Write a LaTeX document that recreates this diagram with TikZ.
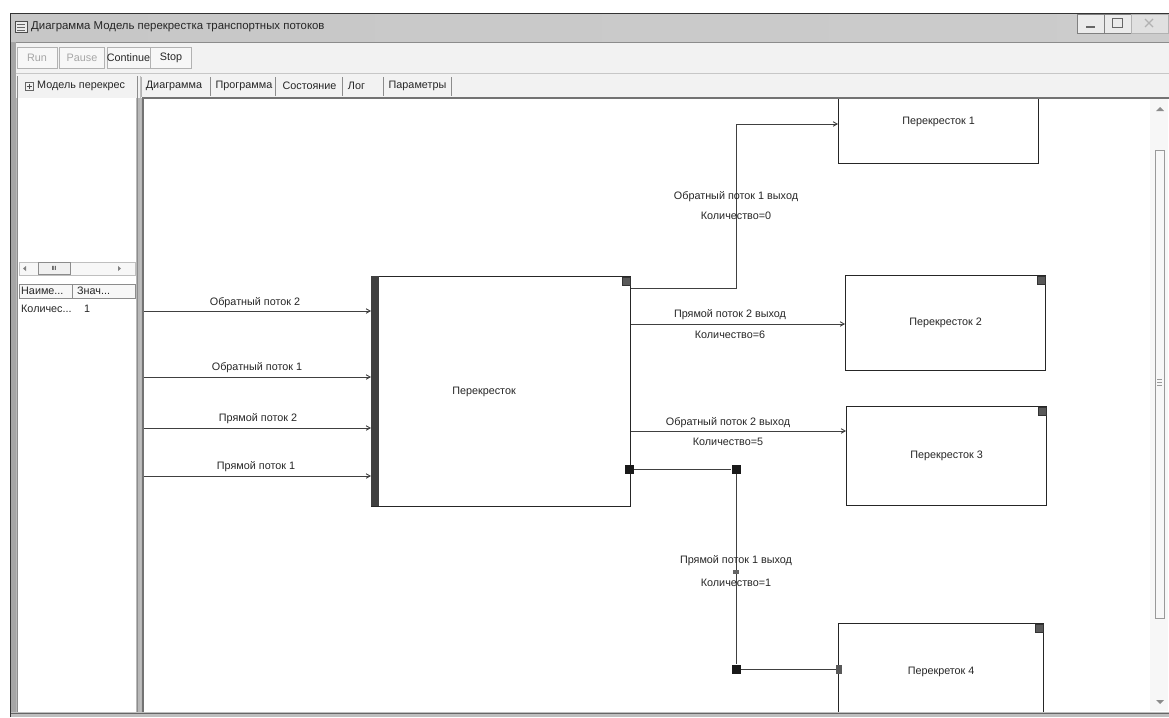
\documentclass[tikz,border=0pt]{standalone}
\usepackage{fontspec}
\setmainfont{Liberation Sans}
\usetikzlibrary{arrows.meta}
\begin{document}
\begin{tikzpicture}[x=1pt,y=-1pt,
  font=\fontsize{10.8}{12}\selectfont,
  box/.style={draw=black!85, line width=1.2pt, fill=white, inner sep=0pt, anchor=north west, text=black!85},
  flow/.style={draw=black!75, line width=0.9pt},
  arr/.style={flow, -{Straight Barb[length=4pt,width=4.5pt]}},
  lbl/.style={inner sep=0pt, text=black!85},
  port/.style={fill=black!90, inner sep=0pt, minimum size=9pt},
  dport/.style={fill=black!65, draw=black!80, line width=0.4pt, inner sep=0pt, minimum size=8pt, anchor=north east},
  btn/.style={draw=black!30, fill=black!3, inner sep=0pt, minimum height=21pt, text=black!85},
  tab/.style={inner sep=0pt, text=black!85},
  hdr/.style={draw=black!45, fill=black!3, inner sep=0pt, minimum height=14pt, anchor=north west},
]
\useasboundingbox (0,0) rectangle (1169,717);
\fill[white] (0,0) rectangle (1169,717);
% window frame
\fill[black!28] (10,13) rectangle (1169,717);
\shade[left color=black!22, middle color=black!16, right color=black!20] (11,14) rectangle (1169,42);
\draw[black!80, line width=1pt] (10.5,717) -- (10.5,13.5) -- (1169,13.5);
% title
\node[draw=black!70, fill=black!8, minimum width=12pt, minimum height=11pt, inner sep=0pt] (icon) at (21,27) {};
\draw[black!60] (17,24) -- (25,24) (17,27) -- (25,27) (17,30) -- (25,30);
\node[anchor=west, font=\fontsize{11.4}{13}\selectfont, text=black!85, inner sep=0pt] (title) at (31,27) {Диаграмма Модель перекрестка транспортных потоков};
% window buttons
\node[draw=black!50, fill=black!8, minimum width=27pt, minimum height=19pt, inner sep=0pt, anchor=north west] (bmin) at (1077,14) {};
\node[draw=black!50, fill=black!8, minimum width=27pt, minimum height=19pt, inner sep=0pt, anchor=north west] (bmax) at (1104,14) {};
\node[draw=black!30, fill=black!12, minimum width=37pt, minimum height=19pt, inner sep=0pt, anchor=north west] (bclose) at (1131,14) {};
\draw[black!60, line width=1.5pt] (1086,27) -- (1095,27);
\draw[black!60, line width=1pt] (1112,19) rectangle (1122,28);
\draw[black!30, line width=1.2pt] (1145,19) -- (1153,27) (1153,19) -- (1145,27);
% toolbar and tab row
\fill[black!5] (11,42) rectangle (1169,98);
\draw[black!45] (11,42.5) -- (1169,42.5);
\draw[black!22] (14,73.5) -- (1169,73.5);
\node[btn, minimum width=40pt, text=black!35] (run) at (37,58) {Run};
\node[btn, minimum width=45pt, text=black!35] (pause) at (82,58) {Pause};
\node[btn, minimum width=43pt] (cont) at (128.5,58) {Continue};
\node[btn, minimum width=41pt] (stop) at (171,58) {Stop};
% tabs
\node[tab] (t1) at (174,86) {Диаграмма};
\node[tab] (t2) at (244,86) {Программа};
\node[tab] (t3) at (309.5,86) {Состояние};
\node[tab] (t4) at (356.5,86) {Лог};
\node[tab] (t5) at (417.5,86) {Параметры};
\draw[black!30] (141,77) -- (141,97);
\draw[black!45] (210,77) -- (210,96) (275,77) -- (275,96) (342,77) -- (342,96) (383,77) -- (383,96) (451,77) -- (451,96);
% left panel
\fill[black!35] (11,42) rectangle (16,717);
\fill[white] (18,98) rectangle (136,712);
\draw[black!45, line width=1.2pt] (17.5,76) -- (17.5,712);
\draw[black!45, line width=1pt] (137,76) -- (137,712);
\draw[black!25] (140,76) -- (140,712);
\node[draw=black!60, line width=0.5pt, minimum size=8pt, inner sep=0pt] (plus) at (29,86) {};
\draw[black!70] (26.5,86) -- (31.5,86) (29,83.5) -- (29,88.5);
\node[tab, anchor=west] (tree) at (37,86) {Модель перекрес};
% left scrollbar
\draw[black!25, fill=black!3] (19,262) rectangle (135,275);
\node[draw=black!45, fill=black!6, minimum width=32pt, minimum height=12pt, inner sep=0pt, font=\fontsize{6}{6}\selectfont] (thumb) at (54,268.5) {III};
\fill[black!50] (23,268.5) -- (26,266) -- (26,271) -- cycle;
\fill[black!50] (121,268.5) -- (118,266) -- (118,271) -- cycle;
% left table
\node[hdr, minimum width=53pt] (h1) at (19,284) {};
\node[hdr, minimum width=63pt] (h2) at (72,284) {};
\node[tab, anchor=west] (h1t) at (21,291) {Наиме...};
\node[tab, anchor=west] (h2t) at (77,291) {Знач...};
\node[tab, anchor=west] (r1) at (21,309) {Количес...};
\node[tab, anchor=west] (r2) at (84,309) {1};
% diagram area
\fill[white] (143,98) rectangle (1169,712);
\fill[black!25] (11,712) rectangle (1169,717);
\draw[black!60] (11,713) -- (1169,713);
\draw[black!55, line width=1.2pt] (143,712) -- (143,98) -- (1169,98);
% right scrollbar
\fill[black!3] (1150,99) rectangle (1168,711);
\draw[black!40, line width=0.6pt] (1155,150) rectangle (1164,618);
\fill[black!45] (1156,111) -- (1160,107) -- (1164,111) -- cycle;
\fill[black!45] (1156,700) -- (1160,704) -- (1164,700) -- cycle;
\draw[black!40] (1157,379) -- (1162,379) (1157,382) -- (1162,382) (1157,385) -- (1162,385);

\begin{scope}
\clip (144,99) rectangle (1149,711);
% main block
\node[box, minimum width=259pt, minimum height=230pt] (main) at (371,276) {};
\node[fill=black!75, inner sep=0pt, minimum width=8pt, minimum height=230pt, anchor=north west] (inbar) at (371,276) {};
\node[lbl] (mainlbl) at (484,392) {Перекресток};
\node[dport] (pA) at (630,277) {};
\node[port] (pD) at (629.5,469.5) {};
% targets
\node[box, minimum width=200pt, minimum height=84pt] (p1) at (838,79) {Перекресток 1};
\node[box, minimum width=200pt, minimum height=95pt] (p2) at (845,275) {Перекресток 2};
\node[box, minimum width=200pt, minimum height=99pt] (p3) at (846,406) {Перекресток 3};
\node[box, minimum width=205pt, minimum height=96pt] (p4) at (838,623) {Перекреток 4};
\node[dport] (p2s) at (1045,276) {};
\node[dport] (p3s) at (1046,407) {};
\node[dport] (p4s) at (1043,624) {};
\node[fill=black!65, inner sep=0pt, minimum width=6pt, minimum height=9pt] (p4in) at (839,669) {};
% inputs
\coordinate (s1) at (144,311);
\coordinate (s2) at (144,377);
\coordinate (s3) at (144,428);
\coordinate (s4) at (144,476);
\draw[arr] (s1) -- (s1 -| inbar.west);
\draw[arr] (s2) -- (s2 -| inbar.west);
\draw[arr] (s3) -- (s3 -| inbar.west);
\draw[arr] (s4) -- (s4 -| inbar.west);
\node[lbl] (l1) at (255,303) {Обратный поток 2};
\node[lbl] (l2) at (257,368) {Обратный поток 1};
\node[lbl] (l3) at (258,419) {Прямой поток 2};
\node[lbl] (l4) at (256,467) {Прямой поток 1};
% outputs
\coordinate (o1) at (631,288);
\coordinate (j1) at (736,124);
\draw[arr] (o1) -| (j1) -- (j1 -| p1.west);
\coordinate (o2) at (631,324);
\draw[arr] (o2) -- (o2 -| p2.west);
\coordinate (o3) at (631,431);
\draw[arr] (o3) -- (o3 -| p3.west);
\node[port] (j4a) at (736,469.5) {};
\node[port] (j4b) at (736,669) {};
\draw[flow] (pD) -- (j4a) -- (j4b) -- (p4in);
\node[fill=black!60, inner sep=0pt, minimum width=6pt, minimum height=4pt] (mid4) at (736,572) {};
% output labels
\node[lbl] (lo1) at (736,197) {Обратный поток 1 выход};
\node[lbl] (lo1b) at (736,216) {Количество=0};
\node[lbl] (lo2) at (730,315) {Прямой поток 2 выход};
\node[lbl] (lo2b) at (730,335) {Количество=6};
\node[lbl] (lo3) at (728,423) {Обратный поток 2 выход};
\node[lbl] (lo3b) at (728,442) {Количество=5};
\node[lbl] (lo4) at (736,561) {Прямой поток 1 выход};
\node[lbl] (lo4b) at (736,583) {Количество=1};
\end{scope}
\end{tikzpicture}
\end{document}
